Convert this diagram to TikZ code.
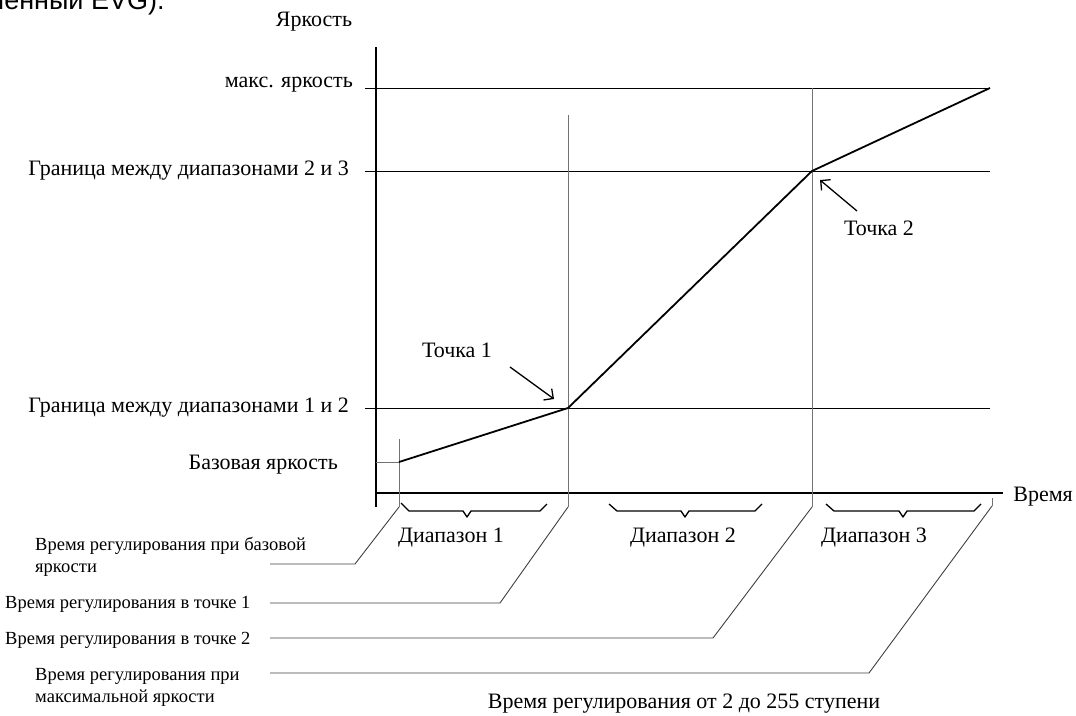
\documentclass[tikz,border=0pt]{standalone}
\usepackage{fontspec}
\setmainfont{Liberation Serif}
\newfontfamily\sansfont{Liberation Sans}
\usetikzlibrary{positioning,arrows.meta}

\begin{document}
\begin{tikzpicture}[
        x=1pt, y=-1pt,
        axis/.style={line width=1.6pt, black},
        grid/.style={line width=0.9pt, black},
        guide/.style={line width=0.9pt, black!55},
        lead/.style={line width=0.9pt, black!75},
        curve/.style={line width=1.8pt, black, line join=round},
        brace/.style={line width=1.3pt, black, line join=round},
        pointer/.style={-{Straight Barb[length=7pt, width=14pt]}, line width=1.3pt},
        biglbl/.style={font=\fontsize{22}{26}\selectfont, inner sep=0pt},
        smalllbl/.style={font=\fontsize{18.5}{22}\selectfont, inner sep=0pt, align=left}
      ]
      \useasboundingbox (0,0) rectangle (1076,715);

      % Cut-off line of the page text above
      \node[font=\sansfont\fontsize{27}{30}\selectfont, anchor=base west, inner sep=0pt] (pagetext) at (-10,9) {ченный EVG).};

      % Axes
      \coordinate (origin) at (376,493);
      \coordinate (ytop) at (376,47);
      \coordinate (ybot) at (376,507);
      \coordinate (xend) at (1003,493);
      \draw[axis] (ybot) -- (ytop);
      \draw[axis, line width=2pt] (origin) -- (xend);
      \node[biglbl] (ylabel) at (314,22) {Яркость};
      \node[biglbl, anchor=east] (xlabel) at (1073,497) {Время};

      % Curve points
      \coordinate (base) at (399,462);
      \coordinate (pt1) at (568,408);
      \coordinate (pt2) at (812,171);
      \coordinate (pmax) at (990,88);

      % Brightness levels
      \coordinate (tmax) at (365,88);
      \coordinate (t23) at (365,171);
      \coordinate (t12) at (365,408);
      \coordinate (tbase) at (376,462);
      \coordinate (emax) at (990,88);
      \coordinate (e23) at (990,171);
      \coordinate (e12) at (990,408);
      \draw[grid] (tmax) -- (emax);
      \draw[grid] (t23) -- (e23);
      \draw[grid] (t12) -- (e12);
      \draw[guide] (tbase) -- (base);

      \node[biglbl, anchor=east] (lmax) at (353,85) {макс. яркость};
      \node[biglbl, anchor=east] (l23) at (349,171) {Граница между диапазонами 2 и 3};
      \node[biglbl, anchor=east] (l12) at (349,408) {Граница между диапазонами 1 и 2};
      \node[biglbl, anchor=east] (lbase) at (338,465) {Базовая яркость};

      % Time marks
      \coordinate (vbase) at (399,439);
      \coordinate (v1) at (568,115);
      \coordinate (v2) at (812,88);
      \coordinate (v3) at (992,498);
      \coordinate (fbase) at (399,507);
      \coordinate (f1) at (568,507);
      \coordinate (f2) at (812,507);
      \coordinate (f3) at (992,506);
      \draw[guide] (vbase) -- (fbase);
      \draw[guide] (v1) -- (f1);
      \draw[guide] (v2) -- (f2);
      \draw[guide] (v3) -- (f3);

      % Brightness curve
      \draw[curve] (base) -- (pt1) -- (pt2) -- (pmax);

      % Points
      \node[biglbl] (lp1) at (457,350) {Точка 1};
      \node[biglbl] (lp2) at (879,228) {Точка 2};
      \coordinate (a1) at (510,367);
      \coordinate (a2) at (857,211);
      \draw[pointer] (a1) -- (554,399);
      \draw[pointer] (a2) -- (820,180);

      % Ranges
      \draw[brace] (401,503) -- (409,511) -- (463,511) -- (467,517) -- (471,511) -- (540,511) -- (547,504);
      \draw[brace] (609,504) -- (617,511) -- (681,511) -- (685,517) -- (689,511) -- (755,511) -- (762,504);
      \draw[brace] (826,504) -- (834,511) -- (899,511) -- (903,517) -- (907,511) -- (974,511) -- (981,504);
      \node[biglbl] (r1) at (451,538) {Диапазон 1};
      \node[biglbl] (r2) at (683,538) {Диапазон 2};
      \node[biglbl] (r3) at (874,538) {Диапазон 3};

      % Setting times
      \node[smalllbl, anchor=west] (tbase) at (35,557) {Время регулирования при базовой\\яркости};
      \node[smalllbl, anchor=west] (tp1) at (5,604) {Время регулирования в точке 1};
      \node[smalllbl, anchor=west] (tp2) at (5,640) {Время регулирования в точке 2};
      \node[smalllbl, anchor=west] (tmaxl) at (35,687) {Время регулирования при\\максимальной яркости};

      \coordinate (hbase) at (270,564);
      \coordinate (h1) at (270,603);
      \coordinate (h2) at (270,638);
      \coordinate (h3) at (270,673);
      \draw[lead] (hbase) -- (355,564) -- (fbase);
      \draw[lead] (h1) -- (500,603) -- (f1);
      \draw[lead] (h2) -- (713,638) -- (f2);
      \draw[lead] (h3) -- (869,673) -- (f3);

      \node[biglbl] (total) at (684,704) {Время регулирования от 2 до 255 ступени};

    \end{tikzpicture}
\end{document}
